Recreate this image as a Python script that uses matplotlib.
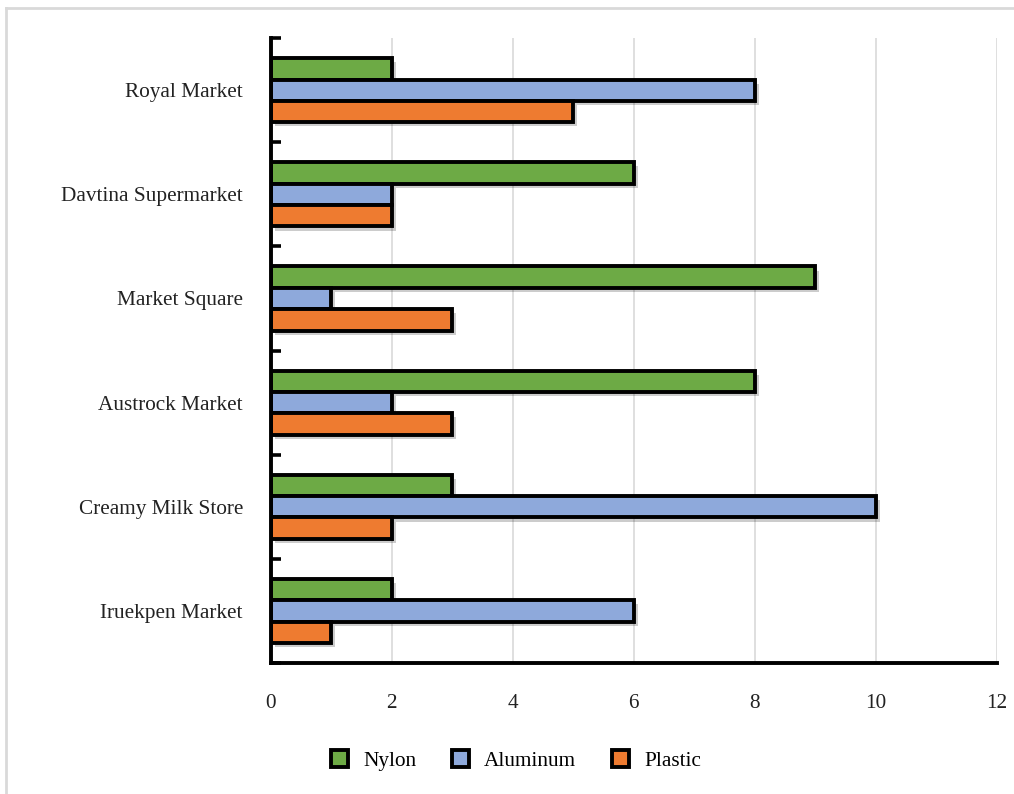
import numpy as np
import matplotlib
matplotlib.use("Agg")
import matplotlib.pyplot as plt
import matplotlib.patheffects as pe
from matplotlib.patches import Patch
from matplotlib.lines import Line2D

# data, top to bottom as shown in the chart
markets = ['Royal Market', 'Davtina Supermarket', 'Market Square',
           'Austrock Market', 'Creamy Milk Store', 'Iruekpen Market']
nylon = [2, 6, 9, 8, 3, 2]
aluminum = [8, 2, 1, 2, 10, 6]
plastic = [5, 2, 3, 3, 2, 1]

series = ['Nylon', 'Aluminum', 'Plastic']
colors = ['#6DAA45', '#8EA9DB', '#EE7B30']

plt.rcParams['font.family'] = ['Liberation Serif', 'DejaVu Serif']
fontsize = 15.3

fig = plt.figure(figsize=(10.14, 7.94), dpi=100)
ax = fig.add_axes([0.267, 0.165, 0.716, 0.787])

n = len(markets)
y = np.arange(n)
h = 0.205
shadow = [pe.SimplePatchShadow(offset=(3, -3), shadow_rgbFace='#000000', alpha=0.2), pe.Normal()]

for i, (vals, col, lab) in enumerate(zip([nylon, aluminum, plastic], colors, series)):
    bars = ax.barh(y + (i - 1) * h, vals, height=h, color=col, edgecolor='black',
                   linewidth=2.8, label=lab, zorder=3)
    for b in bars:
        b.set_path_effects(shadow)

ax.set_xlim(0, 12)
ax.set_ylim(n - 0.5, -0.5)
ax.set_xticks(np.arange(0, 13, 2))
ax.set_yticks(y)
ax.set_yticklabels(markets, fontsize=fontsize, color='#222222')
ax.set_yticks(np.arange(n + 1) - 0.5, minor=True)
ax.tick_params(axis='y', which='major', length=0, pad=20)
ax.tick_params(axis='y', which='minor', direction='in', length=7, width=2.6, color='black')
ax.tick_params(axis='x', length=0, pad=22, labelsize=fontsize, labelcolor='#222222')

ax.grid(axis='x', color='#d9d9d9', linewidth=1.2, zorder=0)
ax.set_axisbelow(True)
for s in ['top', 'right']:
    ax.spines[s].set_visible(False)
for s in ['left', 'bottom']:
    ax.spines[s].set_linewidth(2.8)
    ax.spines[s].set_zorder(4)

# light frame around the chart area
fig.add_artist(Line2D([0.006, 0.006], [0.0, 0.99], color='#d9d9d9', lw=2))
fig.add_artist(Line2D([0.006, 1.0], [0.99, 0.99], color='#d9d9d9', lw=2))

handles = [Patch(facecolor=c, edgecolor='black', linewidth=2.8) for c in colors]
fig.legend(handles, series, loc='center', bbox_to_anchor=(0.509, 0.042), ncol=3,
           frameon=False, fontsize=fontsize, handlelength=0.8, handleheight=0.8,
           columnspacing=1.7, handletextpad=0.7)

plt.savefig('out.png', dpi=100)
